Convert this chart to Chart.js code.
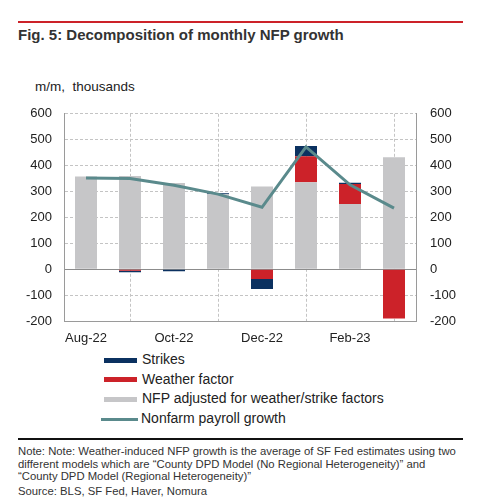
<!DOCTYPE html>
<html>
<head>
<meta charset="utf-8">
<script src="https://cdn.jsdelivr.net/npm/chart.js@4"></script>
<style>
  body { margin: 0; background: #fff; font-family: "Liberation Sans", Arial, sans-serif; color: #222; }
  #page { position: relative; width: 478px; height: 502px; overflow: hidden; }
  .rule { position: absolute; left: 18px; width: 445px; }
  #title { position: absolute; left: 18px; top: 26px; font-size: 15px; font-weight: bold; color: #333; }
  #unit { position: absolute; left: 35px; top: 79px; font-size: 13.5px; white-space: pre; }
  #wrap { position: absolute; left: 0; top: 92px; width: 478px; height: 254px; }
  #legend { position: absolute; left: 102px; top: 350px; font-size: 14px; }
  .item { height: 19.7px; line-height: 19.7px; white-space: nowrap; }
  .swatch { display: inline-block; vertical-align: middle; margin-right: 5px; }
  #notes { position: absolute; left: 18px; top: 445px; font-size: 11.3px; line-height: 12.5px; color: #333; width: 447px; }
</style>
</head>
<body>
<div id="page">
  <div class="rule" style="top:21px;height:2px;background:#cc2229"></div>
  <div id="title">Fig. 5: Decomposition of monthly NFP growth</div>
  <div id="unit">m/m,  thousands</div>
  <div id="wrap"><canvas id="c"></canvas></div>
  <div id="legend"></div>
  <div class="rule" style="top:438px;height:2px;background:#111"></div>
  <div id="notes">Note: Note: Weather-induced NFP growth is the average of SF Fed estimates using two different models which are “County DPD Model (No Regional Heterogeneity)” and “County DPD Model (Regional Heterogeneity)”<div style="margin-top:2px">Source: BLS, SF Fed, Haver, Nomura</div></div>
</div>
<script>
const months = ['Aug-22', 'Sep-22', 'Oct-22', 'Nov-22', 'Dec-22', 'Jan-23', 'Feb-23', 'Mar-23'];
const strikes = [0, -6, -8, 4, -38, 40, 5, 0];
const weather = [0, -6, 0, 0, -38, 100, 77, -190];
const adjusted = [358, 360, 333, 289, 319, 336, 252, 432];
const payrolls = [352, 350, 324, 290, 239, 472, 326, 236];
const yTicks = [-200, -100, 0, 100, 200, 300, 400, 500, 600];

const colors = {
  strikes: '#0b3160',
  weather: '#cc2229',
  adjusted: '#c6c6c8',
  line: '#5a8a8c'
};

const tickFont = { family: '"Liberation Sans", Arial, sans-serif', size: 13 };

// line first so it is painted on top of the bars
const datasets = [
  { type: 'line', label: 'Nonfarm payroll growth', data: payrolls, borderColor: colors.line,
    backgroundColor: colors.line, borderWidth: 3, pointRadius: 0, tension: 0, yAxisID: 'y' },
  { type: 'bar', label: 'NFP adjusted for weather/strike factors', data: adjusted, backgroundColor: colors.adjusted, stack: 's', yAxisID: 'y' },
  { type: 'bar', label: 'Weather factor', data: weather, backgroundColor: colors.weather, stack: 's', yAxisID: 'y' },
  { type: 'bar', label: 'Strikes', data: strikes, backgroundColor: colors.strikes, stack: 's', yAxisID: 'y' }
];

function yGrid(ctx) {
  const v = ctx.tick && ctx.tick.value;
  if (v === 0) return '#8c8c8c';
  if (v === -200) return '#9a9a9a';
  return '#c4c4c4';
}

const yScale = {
  min: -200, max: 600,
  afterBuildTicks: s => { s.ticks = yTicks.map(v => ({ value: v })); },
  ticks: { color: '#222', font: tickFont, padding: 12 },
  grid: { color: yGrid, lineWidth: 1, drawTicks: false },
  border: { display: true, color: '#9a9a9a', dash: ctx => (ctx.tick && (ctx.tick.value === 0 || ctx.tick.value === -200)) ? [] : [3, 2] },
  afterFit: s => { s.width = 64; }
};

new Chart(document.getElementById('c'), {
  data: { labels: months, datasets: datasets },
  options: {
    responsive: true,
    maintainAspectRatio: false,
    animation: false,
    layout: { padding: { top: 13, left: 0, right: 0, bottom: 0 } },
    datasets: { bar: { barPercentage: 0.5, categoryPercentage: 1.0 } },
    plugins: { legend: { display: false }, tooltip: { enabled: false } },
    scales: {
      x: {
        stacked: true,
        offset: true,
        ticks: {
          autoSkip: false, maxRotation: 0, color: '#222', font: tickFont, padding: 10,
          callback: (v, i) => i % 2 === 0 ? months[i] : null
        },
        grid: { offset: true, color: '#c4c4c4', drawTicks: false },
        border: { display: true, color: '#9a9a9a', dash: [3, 2] },
        afterFit: s => { s.height = 25; }
      },
      y: Object.assign({ position: 'left', stacked: true }, yScale),
      y2: Object.assign({}, yScale, {
        position: 'right',
        grid: { drawOnChartArea: false, drawTicks: false },
        border: { display: true, color: '#9a9a9a' },
        ticks: { color: '#222', font: tickFont, padding: 14 },
        afterFit: s => { s.width = 62; }
      })
    }
  }
});

// legend below the plot, in the reference order
const legendOrder = [3, 2, 1, 0];
const legend = document.getElementById('legend');
legendOrder.forEach(i => {
  const ds = datasets[i];
  const row = document.createElement('div');
  row.className = 'item';
  const sw = document.createElement('span');
  sw.className = 'swatch';
  if (ds.type === 'line') {
    sw.style.cssText = 'width:37px;height:3px;margin-left:-1px;margin-right:3px;background:' + ds.borderColor;
  } else {
    sw.style.cssText = 'width:33px;height:5px;margin-left:2px;margin-right:5px;background:' + ds.backgroundColor;
  }
  row.appendChild(sw);
  row.appendChild(document.createTextNode(ds.label));
  legend.appendChild(row);
});
</script>
</body>
</html>
